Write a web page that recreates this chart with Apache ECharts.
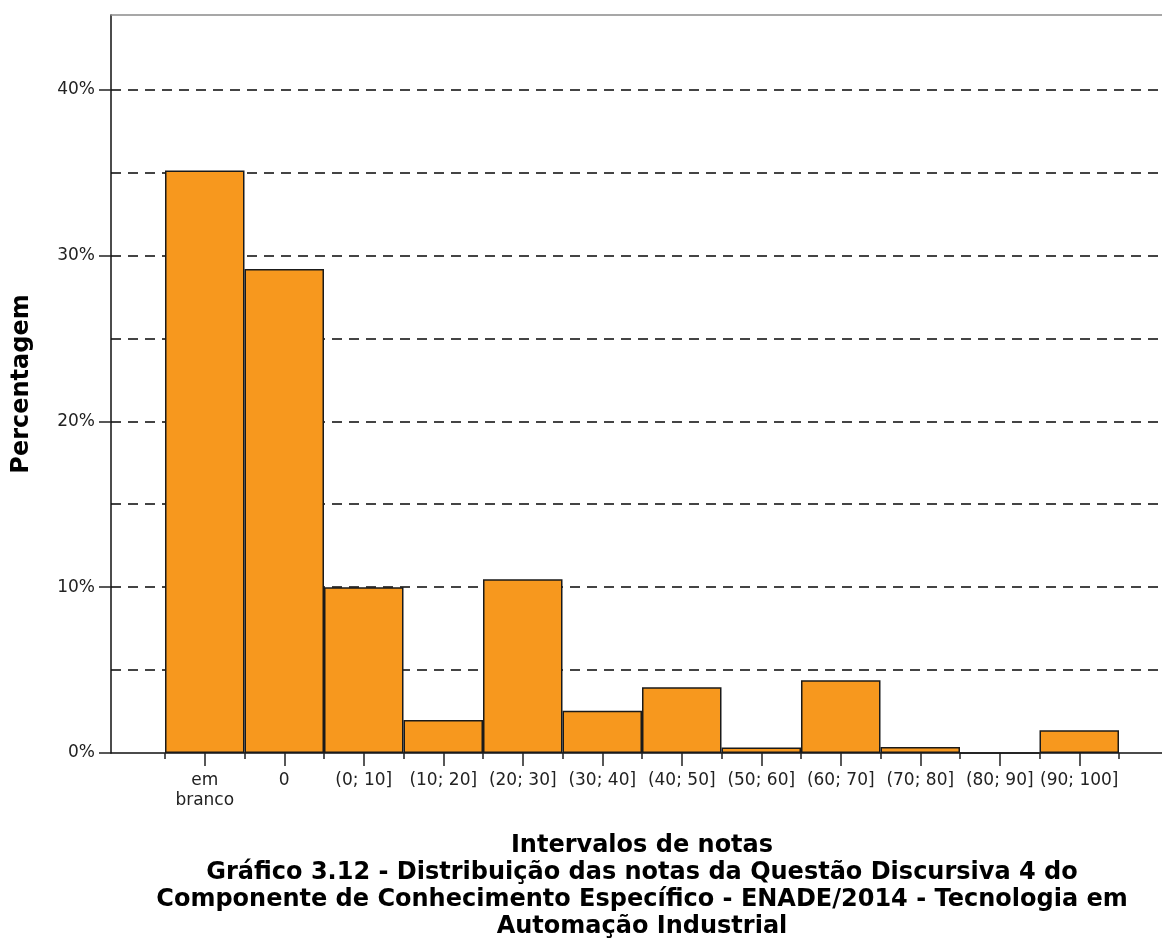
<!DOCTYPE html>
<html>
<head>
<meta charset="utf-8">
<script src="https://cdn.jsdelivr.net/npm/echarts@6/dist/echarts.min.js"></script>
<style>
html,body{margin:0;padding:0;background:#fff;}
#chart{width:1162px;height:943px;}
</style>
</head>
<body>
<div id="chart"></div>
<script>
const categories = ['em\nbranco', '0', '(0; 10]', '(10; 20]', '(20; 30]', '(30; 40]', '(40; 50]', '(50; 60]', '(60; 70]', '(70; 80]', '(80; 90]', '(90; 100]'];
const percentages = [35.12, 29.18, 10.0, 1.99, 10.48, 2.55, 3.96, 0.33, 4.38, 0.36, 0, 1.37];
const yTickValues = [0, 10, 20, 30, 40];
const yMax = 44.5;
const xAxisName = 'Intervalos de notas';
const yAxisName = 'Percentagem';
const titleText = 'Gráfico 3.12 - Distribuição das notas da Questão Discursiva 4 do\nComponente de Conhecimento Específico - ENADE/2014 - Tecnologia em\nAutomação Industrial';

const chart = echarts.init(document.getElementById('chart'), null, {renderer: 'canvas'});
const tickFont = '"DejaVu Sans", sans-serif';
const option = {
  animation: false,
  backgroundColor: '#ffffff',
  grid: [
    {left: 111, right: 0, top: 15, bottom: 190, containLabel: false, outerBoundsMode: 'none'},
    {left: 165, right: 43, top: 15, bottom: 190, containLabel: false, outerBoundsMode: 'none'}
  ],
  xAxis: [
    {gridIndex: 0, type: 'value', min: 0, max: 1, position: 'bottom',
     axisLine: {show: true, onZero: false, lineStyle: {color: '#111', width: 1.5}},
     axisTick: {show: false}, axisLabel: {show: false}, splitLine: {show: false}},
    {gridIndex: 0, type: 'value', min: 0, max: 1, position: 'top',
     axisLine: {show: true, onZero: false, lineStyle: {color: '#8a8a8a', width: 1.5}},
     axisTick: {show: false}, axisLabel: {show: false}, splitLine: {show: false}},
    {gridIndex: 1, type: 'category', data: categories, position: 'bottom',
     axisLine: {show: false, onZero: false},
     axisTick: {show: true, alignWithLabel: true, length: 13, lineStyle: {color: '#222', width: 1.5}},
     axisLabel: {interval: 0, margin: 18, color: '#222', fontFamily: tickFont, fontSize: 17, lineHeight: 20},
     name: xAxisName, nameLocation: 'middle', nameGap: 81,
     nameTextStyle: {color: '#000', fontFamily: tickFont, fontWeight: 'bold', fontSize: 24}},
    {gridIndex: 1, type: 'category', data: categories, position: 'bottom',
     axisLine: {show: false, onZero: false},
     axisTick: {show: true, alignWithLabel: false, length: 6, lineStyle: {color: '#222', width: 1.5}},
     axisLabel: {show: false}}
  ],
  yAxis: [
    {gridIndex: 0, type: 'value', min: 0, max: yMax, interval: 5, position: 'left',
     axisLine: {show: false, onZero: false}, axisTick: {show: false}, axisLabel: {show: false},
     splitLine: {show: true, showMinLine: false, showMaxLine: false, lineStyle: {color: '#444', width: 2, type: [10, 7]}}},
    {gridIndex: 0, type: 'value', min: 0, max: yMax, interval: 10, position: 'left',
     axisLine: {show: true, onZero: false, lineStyle: {color: '#111', width: 1.5}},
     axisTick: {show: true, length: 12, customValues: yTickValues, lineStyle: {color: '#222', width: 1.5}},
     axisLabel: {show: true, margin: 16, customValues: yTickValues, color: '#222', fontFamily: tickFont, fontSize: 17,
       formatter: function (v) { return yTickValues.indexOf(v) >= 0 ? v + '%' : ''; }},
     splitLine: {show: false},
     name: yAxisName, nameLocation: 'middle', nameGap: 77, nameRotate: 90,
     nameTextStyle: {color: '#000', fontFamily: tickFont, fontWeight: 'bold', fontSize: 24}},
    {gridIndex: 1, type: 'value', min: 0, max: yMax, show: false}
  ],
  series: [
    {type: 'bar', xAxisIndex: 2, yAxisIndex: 2, data: percentages, barWidth: '100%', barGap: '0%', barCategoryGap: '0%',
     itemStyle: {color: '#F7981E', borderColor: '#1a1a1a', borderWidth: 1.5}}
  ],
  graphic: [
    {type: 'text', x: 642, y: 859,
     style: {text: titleText, fill: '#000', font: 'bold 24px "DejaVu Sans", sans-serif', textAlign: 'center', textVerticalAlign: 'top', lineHeight: 27}}
  ]
};
chart.setOption(option);
</script>
</body>
</html>
